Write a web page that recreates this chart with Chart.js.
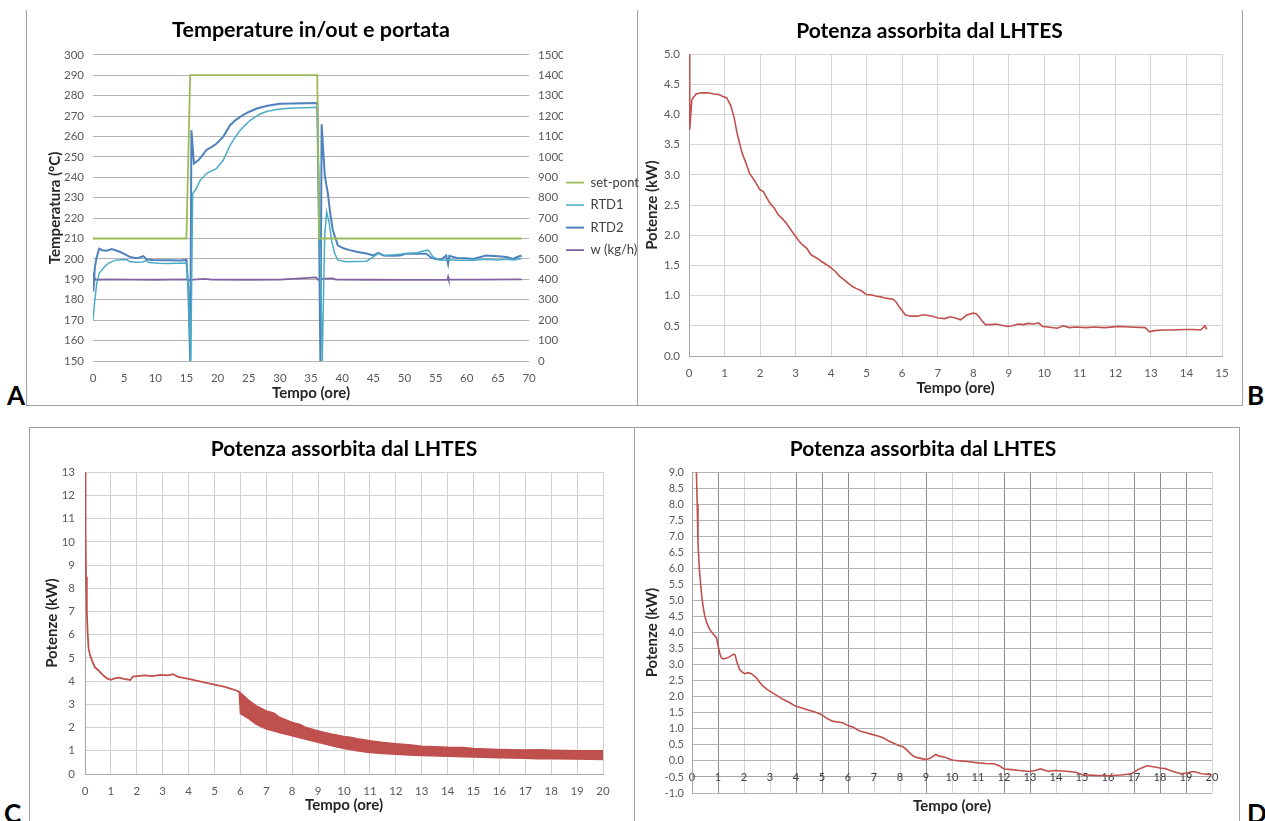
<!DOCTYPE html>
<html>
<head>
<meta charset="utf-8">
<title>LHTES</title>
<script src="https://cdn.jsdelivr.net/npm/chart.js@4.4.0/dist/chart.umd.min.js"></script>
<style>
  body { margin: 0; background: #fff; }
  #page { position: relative; width: 1265px; height: 821px; overflow: hidden; font-family: Lato, "Open Sans", sans-serif; }
  canvas { position: absolute; }
  .rule { position: absolute; background: #A0A0A0; }
  .tag { position: absolute; font: bold 26px Lato, sans-serif; color: #000; line-height: 26px; }
</style>
</head>
<body>
<div id="page">
  <div class="rule" style="left:26px;top:10px;width:1px;height:395px"></div>
  <div class="rule" style="left:637px;top:10px;width:1px;height:395px"></div>
  <div class="rule" style="left:1242px;top:10px;width:1px;height:395px"></div>
  <div class="rule" style="left:26px;top:405px;width:1217px;height:1px"></div>
  <div class="rule" style="left:29px;top:427px;width:1211px;height:1px"></div>
  <div class="rule" style="left:29px;top:427px;width:1px;height:394px"></div>
  <div class="rule" style="left:634px;top:427px;width:1px;height:394px"></div>
  <div class="rule" style="left:1239px;top:427px;width:1px;height:394px"></div>

  <canvas id="chartA" width="623" height="395" style="left:26px;top:10px"></canvas>
  <canvas id="chartB" width="605" height="395" style="left:637px;top:10px"></canvas>
  <canvas id="chartC" width="605" height="393" style="left:29px;top:428px"></canvas>
  <canvas id="chartD" width="605" height="393" style="left:634px;top:428px"></canvas>

  <div class="tag" style="left:7px;top:382px">A</div>
  <div class="tag" style="left:1247px;top:382px">B</div>
  <div class="tag" style="left:4px;top:800px">C</div>
  <div class="tag" style="left:1247px;top:800px">D</div>
</div>
<script>
// A - temperature in/out and flow
const hoursSet = [0, 15.0, 15.6, 36.0, 36.3, 68.8];
const setPoint = [210, 210, 290, 290, 210, 210];

const hoursRtd1 = [0, 0.3, 0.6, 1.0, 1.5, 2.0, 2.5, 3.5, 4.5, 5.5, 6.0, 7.0, 8.0, 8.5, 9.0, 10.5, 12.0, 13.5, 15.0, 15.3, 15.7, 16.0, 16.5, 17.2, 18.2, 19.0, 19.8, 20.9, 22.0, 22.8, 23.6, 24.4, 25.2, 26.0, 26.8, 28.0, 30.0, 32.0, 34.0, 36.0, 36.4, 36.8, 37.2, 37.5, 37.9, 38.3, 38.8, 39.3, 40.7, 42.0, 43.9, 45.0, 45.8, 46.9, 48.5, 50.3, 52.0, 53.0, 53.8, 54.6, 55.7, 57.0, 58.5, 61.0, 63.0, 65.0, 66.4, 67.5, 68.8];
const rtd1 = [170, 180, 188, 193, 195, 196.5, 198, 199.3, 199.6, 199.6, 198.6, 198.4, 198.5, 199.2, 198.2, 197.9, 197.8, 197.9, 198, 185, 150, 232, 234, 238.5, 241.8, 243, 244.2, 248.3, 255.6, 259.5, 262.9, 265.5, 267.8, 269.5, 271, 272.3, 273.5, 273.9, 274.1, 274.3, 215, 150, 212, 223, 218, 209, 202.7, 199.4, 198.6, 198.8, 198.9, 201, 202.7, 201.7, 202, 202.7, 203, 203.9, 204.3, 201, 199.4, 199.6, 199.3, 199.4, 199.8, 199.5, 199.8, 199.5, 200.2];

const hoursRtd2 = [0, 0.05, 0.3, 0.6, 1.0, 1.5, 2.2, 3.0, 4.3, 5.0, 5.9, 7.0, 7.6, 8.1, 8.6, 9.6, 11.0, 12.5, 14.0, 15.0, 15.3, 15.6, 15.8, 16.2, 16.9, 17.5, 18.2, 19.0, 19.8, 20.9, 22.0, 22.8, 23.6, 25.0, 26.3, 28.0, 30.0, 32.0, 34.0, 36.0, 36.3, 36.5, 36.7, 37.2, 37.7, 38.1, 38.5, 39.3, 40.2, 41.2, 42.5, 43.9, 45.0, 45.8, 46.6, 48.0, 49.3, 50.3, 52.0, 53.5, 54.3, 55.1, 56.0, 56.7, 57.0, 57.2, 58.4, 60.0, 61.0, 63.1, 65.0, 66.4, 67.4, 68.0, 68.8];
const rtd2 = [192, 184, 196, 201, 205, 204.3, 204, 204.8, 203.5, 202.5, 201, 200.4, 200.8, 201.4, 199.8, 199.5, 199.3, 199.4, 199.2, 199.5, 185, 150, 263, 246.7, 248.3, 250.5, 253.4, 254.8, 256.4, 259.8, 265.5, 267.8, 269.6, 272, 273.7, 275, 276, 276.2, 276.3, 276.4, 210, 150, 266, 241, 232, 222, 214, 206.7, 205.2, 204.3, 203.4, 202.7, 201.7, 203, 201.7, 201.5, 201.7, 202.6, 202.6, 202.6, 200.6, 199.8, 200, 201.7, 197.5, 201.5, 200.5, 200.3, 200, 201.7, 201.3, 201, 200, 200.8, 201.7];

const hoursW = [0, 0.1, 0.4, 3, 6, 10, 15, 15.6, 16, 18, 19, 25, 30, 35.8, 36.1, 36.5, 38.5, 39, 45, 50, 56.9, 57.0, 57.1, 62, 68.8];
const flowW = [370, 420, 398, 400, 399, 398, 400, 395, 399, 402, 399, 398, 399, 410, 398, 402, 405, 399, 398, 397, 399, 412, 399, 399, 400];

// B - absorbed power, test 1
const hoursB = [0, 0.02, 0.08, 0.2, 0.35, 0.54, 0.7, 0.85, 0.95, 1.06, 1.18, 1.27, 1.35, 1.49, 1.6, 1.7, 1.85, 1.99, 2.1, 2.14, 2.27, 2.4, 2.51, 2.62, 2.74, 2.88, 3.0, 3.1, 3.2, 3.32, 3.43, 3.6, 3.72, 3.85, 4.0, 4.12, 4.24, 4.35, 4.47, 4.6, 4.7, 4.85, 4.99, 5.15, 5.28, 5.4, 5.51, 5.62, 5.74, 5.82, 5.91, 6.0, 6.09, 6.25, 6.43, 6.55, 6.66, 6.85, 7.01, 7.2, 7.35, 7.5, 7.64, 7.72, 7.82, 7.99, 8.08, 8.16, 8.25, 8.34, 8.5, 8.63, 8.8, 8.97, 9.1, 9.26, 9.4, 9.55, 9.7, 9.84, 9.95, 10.1, 10.36, 10.53, 10.7, 10.9, 11.17, 11.4, 11.7, 12.09, 12.4, 12.84, 12.96, 13.1, 13.36, 13.6, 13.94, 14.2, 14.4, 14.52, 14.57];
const powerB = [5.0, 3.75, 4.25, 4.34, 4.36, 4.36, 4.34, 4.33, 4.3, 4.28, 4.14, 3.95, 3.7, 3.37, 3.2, 3.03, 2.9, 2.76, 2.72, 2.67, 2.54, 2.45, 2.34, 2.28, 2.2, 2.08, 1.98, 1.9, 1.84, 1.78, 1.68, 1.62, 1.57, 1.52, 1.46, 1.4, 1.32, 1.27, 1.21, 1.15, 1.12, 1.08, 1.02, 1.01, 0.99, 0.98, 0.96, 0.95, 0.94, 0.9, 0.82, 0.75, 0.68, 0.66, 0.66, 0.68, 0.68, 0.66, 0.63, 0.62, 0.65, 0.63, 0.6, 0.63, 0.68, 0.71, 0.7, 0.65, 0.58, 0.52, 0.52, 0.53, 0.51, 0.49, 0.5, 0.53, 0.52, 0.54, 0.53, 0.55, 0.49, 0.48, 0.46, 0.5, 0.47, 0.48, 0.47, 0.48, 0.47, 0.49, 0.48, 0.47, 0.4, 0.42, 0.43, 0.43, 0.44, 0.44, 0.43, 0.5, 0.44];

// C - absorbed power, test 2 (line until 6 h, then oscillating band)
const hoursC = [0, 0.02, 0.04, 0.07, 0.1, 0.14, 0.2, 0.28, 0.38, 0.5, 0.7, 0.85, 1.0, 1.15, 1.3, 1.5, 1.75, 1.85, 2.0, 2.3, 2.6, 2.9, 3.2, 3.4, 3.6, 4.0, 4.3, 4.6, 5.0, 5.4, 5.7, 5.95];
const powerC = [13, 10.5, 8.5, 7.0, 6.1, 5.4, 5.1, 4.85, 4.6, 4.48, 4.25, 4.12, 4.06, 4.12, 4.15, 4.1, 4.05, 4.2, 4.22, 4.25, 4.22, 4.27, 4.25, 4.3, 4.18, 4.1, 4.02, 3.95, 3.85, 3.75, 3.65, 3.55];
const hoursBand = [5.95, 6.0, 6.3, 6.6, 7.0, 7.3, 7.5, 8.0, 8.3, 8.5, 9.0, 9.5, 10.0, 10.3, 10.5, 11.0, 11.5, 12.0, 12.5, 13.0, 14.0, 14.6, 15.0, 16.0, 17.0, 17.5, 18.0, 19.0, 20.0];
const bandHigh = [3.55, 3.5, 3.2, 2.95, 2.72, 2.62, 2.45, 2.22, 2.14, 2.02, 1.86, 1.73, 1.62, 1.58, 1.52, 1.43, 1.36, 1.3, 1.26, 1.2, 1.15, 1.14, 1.1, 1.06, 1.04, 1.05, 1.03, 1.0, 1.0];
const bandLow = [3.55, 2.6, 2.4, 2.15, 1.93, 1.85, 1.78, 1.64, 1.56, 1.5, 1.36, 1.22, 1.1, 1.04, 1.0, 0.92, 0.88, 0.85, 0.82, 0.8, 0.76, 0.74, 0.73, 0.7, 0.68, 0.66, 0.66, 0.64, 0.62];

// D - absorbed power, test 3
const hoursD = [0.15, 0.17, 0.2, 0.23, 0.28, 0.36, 0.42, 0.49, 0.58, 0.68, 0.8, 0.94, 1.0, 1.07, 1.13, 1.2, 1.32, 1.45, 1.6, 1.66, 1.72, 1.83, 1.95, 2.03, 2.15, 2.28, 2.47, 2.6, 2.73, 2.9, 3.1, 3.3, 3.5, 3.75, 3.97, 4.2, 4.4, 4.7, 4.97, 5.2, 5.4, 5.8, 6.0, 6.2, 6.45, 6.7, 6.96, 7.15, 7.35, 7.55, 7.74, 7.95, 8.12, 8.25, 8.37, 8.5, 8.63, 8.8, 9.0, 9.15, 9.27, 9.37, 9.5, 9.7, 9.9, 10.0, 10.3, 10.6, 11.0, 11.3, 11.6, 11.8, 12.0, 12.3, 12.6, 13.0, 13.2, 13.4, 13.7, 14.0, 14.5, 14.8, 15.0, 15.5, 16.0, 16.5, 16.9, 17.2, 17.5, 17.8, 18.0, 18.2, 18.5, 18.8, 19.0, 19.3, 19.6, 20.0];
const powerD = [9.8, 9.0, 8.0, 6.8, 6.0, 5.25, 4.85, 4.52, 4.28, 4.1, 3.97, 3.84, 3.6, 3.35, 3.22, 3.18, 3.2, 3.25, 3.33, 3.3, 3.1, 2.85, 2.76, 2.72, 2.75, 2.72, 2.6, 2.45, 2.33, 2.22, 2.12, 2.02, 1.92, 1.82, 1.71, 1.66, 1.6, 1.53, 1.45, 1.32, 1.24, 1.19, 1.1, 1.05, 0.93, 0.88, 0.82, 0.78, 0.72, 0.63, 0.56, 0.48, 0.44, 0.35, 0.25, 0.16, 0.11, 0.08, 0.04, 0.08, 0.14, 0.2, 0.15, 0.12, 0.06, 0.03, 0.0, -0.02, -0.06, -0.08, -0.09, -0.14, -0.25, -0.27, -0.3, -0.33, -0.3, -0.25, -0.32, -0.3, -0.33, -0.36, -0.43, -0.45, -0.46, -0.44, -0.4, -0.25, -0.15, -0.19, -0.22, -0.24, -0.33, -0.4, -0.38, -0.33, -0.4, -0.43];

const FONT = "Lato, 'Open Sans', sans-serif";
const RED = '#C0504D';
Chart.defaults.font.family = FONT;
Chart.defaults.color = '#595959';
Chart.defaults.animation = false;

function pts(xs, ys) {
  return xs.map((x, i) => ({ x: x, y: ys[i] }));
}

function chartTitle(text, full, size, pad) {
  return { display: true, text: text, fullSize: full, color: '#000', font: { size: size, weight: 'bold' }, padding: pad };
}

function axisTitle(text, pad) {
  return { display: true, text: text, color: '#262626', font: { size: 15, weight: 'bold' }, padding: pad };
}

const baseOptions = {
  responsive: false,
  elements: { point: { radius: 0 }, line: { tension: 0 } }
};

// legend rows are one-line arrays so the row height follows the line height
const legendRows = chart => Chart.defaults.plugins.legend.labels.generateLabels(chart)
  .map(item => ({ ...item, text: [item.text] }));

// Chart A
new Chart(document.getElementById('chartA'), {
  type: 'line',
  data: {
    datasets: [
      { label: 'set-pont', data: pts(hoursSet, setPoint), borderColor: '#9BBB59', backgroundColor: '#9BBB59', borderWidth: 1.8, yAxisID: 'y' },
      { label: 'RTD1', data: pts(hoursRtd1, rtd1), borderColor: '#4BACC6', backgroundColor: '#4BACC6', borderWidth: 1.5, yAxisID: 'y' },
      { label: 'RTD2', data: pts(hoursRtd2, rtd2), borderColor: '#4F81BD', backgroundColor: '#4F81BD', borderWidth: 2, yAxisID: 'y' },
      { label: 'w (kg/h)', data: pts(hoursW, flowW), borderColor: '#8064A2', backgroundColor: '#8064A2', borderWidth: 1.8, yAxisID: 'y1' }
    ]
  },
  options: {
    ...baseOptions,
    plugins: {
      tooltip: { enabled: false },
      title: chartTitle('Temperature in/out e portata', false, 21.5, { top: 7, bottom: 12 }),
      legend: {
        position: 'right',
        title: { display: true, text: ' ', padding: 0, font: { size: 11, lineHeight: 2.2 } },
        labels: {
          usePointStyle: true, pointStyle: 'line', pointStyleWidth: 18, padding: 3,
          color: '#404040', font: { size: 13, lineHeight: 1.5 }, generateLabels: legendRows
        }
      }
    },
    scales: {
      x: {
        type: 'linear', min: 0, max: 70,
        ticks: { stepSize: 5, padding: 10, maxRotation: 0, font: { size: 11.5 } },
        grid: { display: false, drawTicks: false },
        border: { display: false },
        title: axisTitle('Tempo (ore)', { top: 0, bottom: 3 }),
        afterFit: s => { s.height = 44; }
      },
      y: {
        position: 'left', min: 150, max: 300,
        ticks: { stepSize: 10, padding: 9, font: { size: 11.5 } },
        grid: { color: '#B3B3B3', drawTicks: false },
        border: { display: false },
        title: axisTitle('Temperatura (°C)', { top: 20, bottom: 0 }),
        afterFit: s => { s.width = 67; }
      },
      y1: {
        position: 'right', min: 0, max: 1500,
        ticks: { stepSize: 100, padding: 9, font: { size: 11.5 }, callback: v => String(v) },
        grid: { display: false, drawTicks: false },
        border: { display: false },
        afterFit: s => { s.width = 34; }
      }
    }
  }
});

function powerChart(id, datasets, o) {
  const xScale = {
    type: 'linear', min: 0, max: o.xMax, position: o.xPos,
    ticks: { stepSize: 1, padding: o.xTickPad, autoSkip: false, maxRotation: 0, color: o.xTickColor, font: { size: o.xFont } },
    grid: { color: o.xGrid, drawTicks: false },
    border: { color: '#A6A6A6' },
    title: axisTitle('Tempo (ore)', o.xTitlePad)
  };
  if (o.xHeight) xScale.afterFit = s => { s.height = o.xHeight; };
  return new Chart(document.getElementById(id), {
    type: 'line',
    data: { datasets: datasets },
    options: {
      ...baseOptions,
      layout: { padding: { right: o.padRight, bottom: o.padBottom || 0 } },
      plugins: {
        tooltip: { enabled: false },
        legend: { display: false },
        title: chartTitle('Potenza assorbita dal LHTES', o.fullTitle, 21, { top: 9, bottom: 10 })
      },
      scales: {
        x: xScale,
        y: {
          min: o.yMin, max: o.yMax,
          ticks: { stepSize: o.yStep, padding: o.yTickPad, autoSkip: false, font: { size: o.yFont }, callback: o.yFmt },
          grid: { color: o.yGrid, drawTicks: false },
          border: { color: '#A6A6A6' },
          title: axisTitle('Potenze (kW)', { top: o.yTitlePad, bottom: 0 }),
          afterFit: s => { s.width = o.yWidth; }
        }
      }
    }
  });
}

const oneDecimal = v => v.toFixed(1);

// Chart B
powerChart('chartB', [
  { data: pts(hoursB, powerB), borderColor: RED, borderWidth: 1.6 }
], {
  padRight: 20, fullTitle: true, xMax: 15, xPos: 'bottom', xTickPad: 10, xFont: 11.5, xTickColor: '#595959',
  xGrid: '#D4D4D4', xTitlePad: { top: 0, bottom: 8 }, xHeight: 49,
  yMin: 0, yMax: 5, yStep: 0.5, yTickPad: 9, yFont: 11.5, yFmt: oneDecimal,
  yGrid: '#D4D4D4', yTitlePad: 6, yWidth: 52
});

// Chart C
powerChart('chartC', [
  { data: pts(hoursC, powerC), borderColor: RED, borderWidth: 1.8 },
  { data: pts(hoursBand, bandHigh), borderColor: RED, borderWidth: 1.4 },
  { data: pts(hoursBand, bandLow), borderColor: RED, borderWidth: 1.4, backgroundColor: RED, fill: '-1' }
], {
  padRight: 31, fullTitle: false, xMax: 20, xPos: 'bottom', xTickPad: 10, xFont: 11.5, xTickColor: '#595959',
  xGrid: '#D0D0D0', xTitlePad: { top: 0, bottom: 7 }, xHeight: 47,
  yMin: 0, yMax: 13, yStep: 1, yTickPad: 10, yFont: 11.5, yFmt: v => v,
  yGrid: '#D0D0D0', yTitlePad: 14, yWidth: 56
});

// Chart D - the hour labels sit on the -0.5 kW line
const darkHoursD = [1, 4, 5, 6, 9, 12, 13, 17, 18, 19];
powerChart('chartD', [
  { data: pts(hoursD, powerD), borderColor: RED, borderWidth: 1.6 }
], {
  padRight: 27, padBottom: 28, fullTitle: true, xMax: 20, xPos: { y: -0.5 }, xTickPad: -6, xFont: 11, xTickColor: '#404040',
  xGrid: c => darkHoursD.includes(c.tick && c.tick.value) ? '#8C8C8C' : '#D6D6D6',
  xTitlePad: { top: 19, bottom: 0 },
  yMin: -1, yMax: 9, yStep: 0.5, yTickPad: 8, yFont: 11, yFmt: oneDecimal,
  yGrid: '#B4B4B4', yTitlePad: 9, yWidth: 58
});
</script>
</body>
</html>
